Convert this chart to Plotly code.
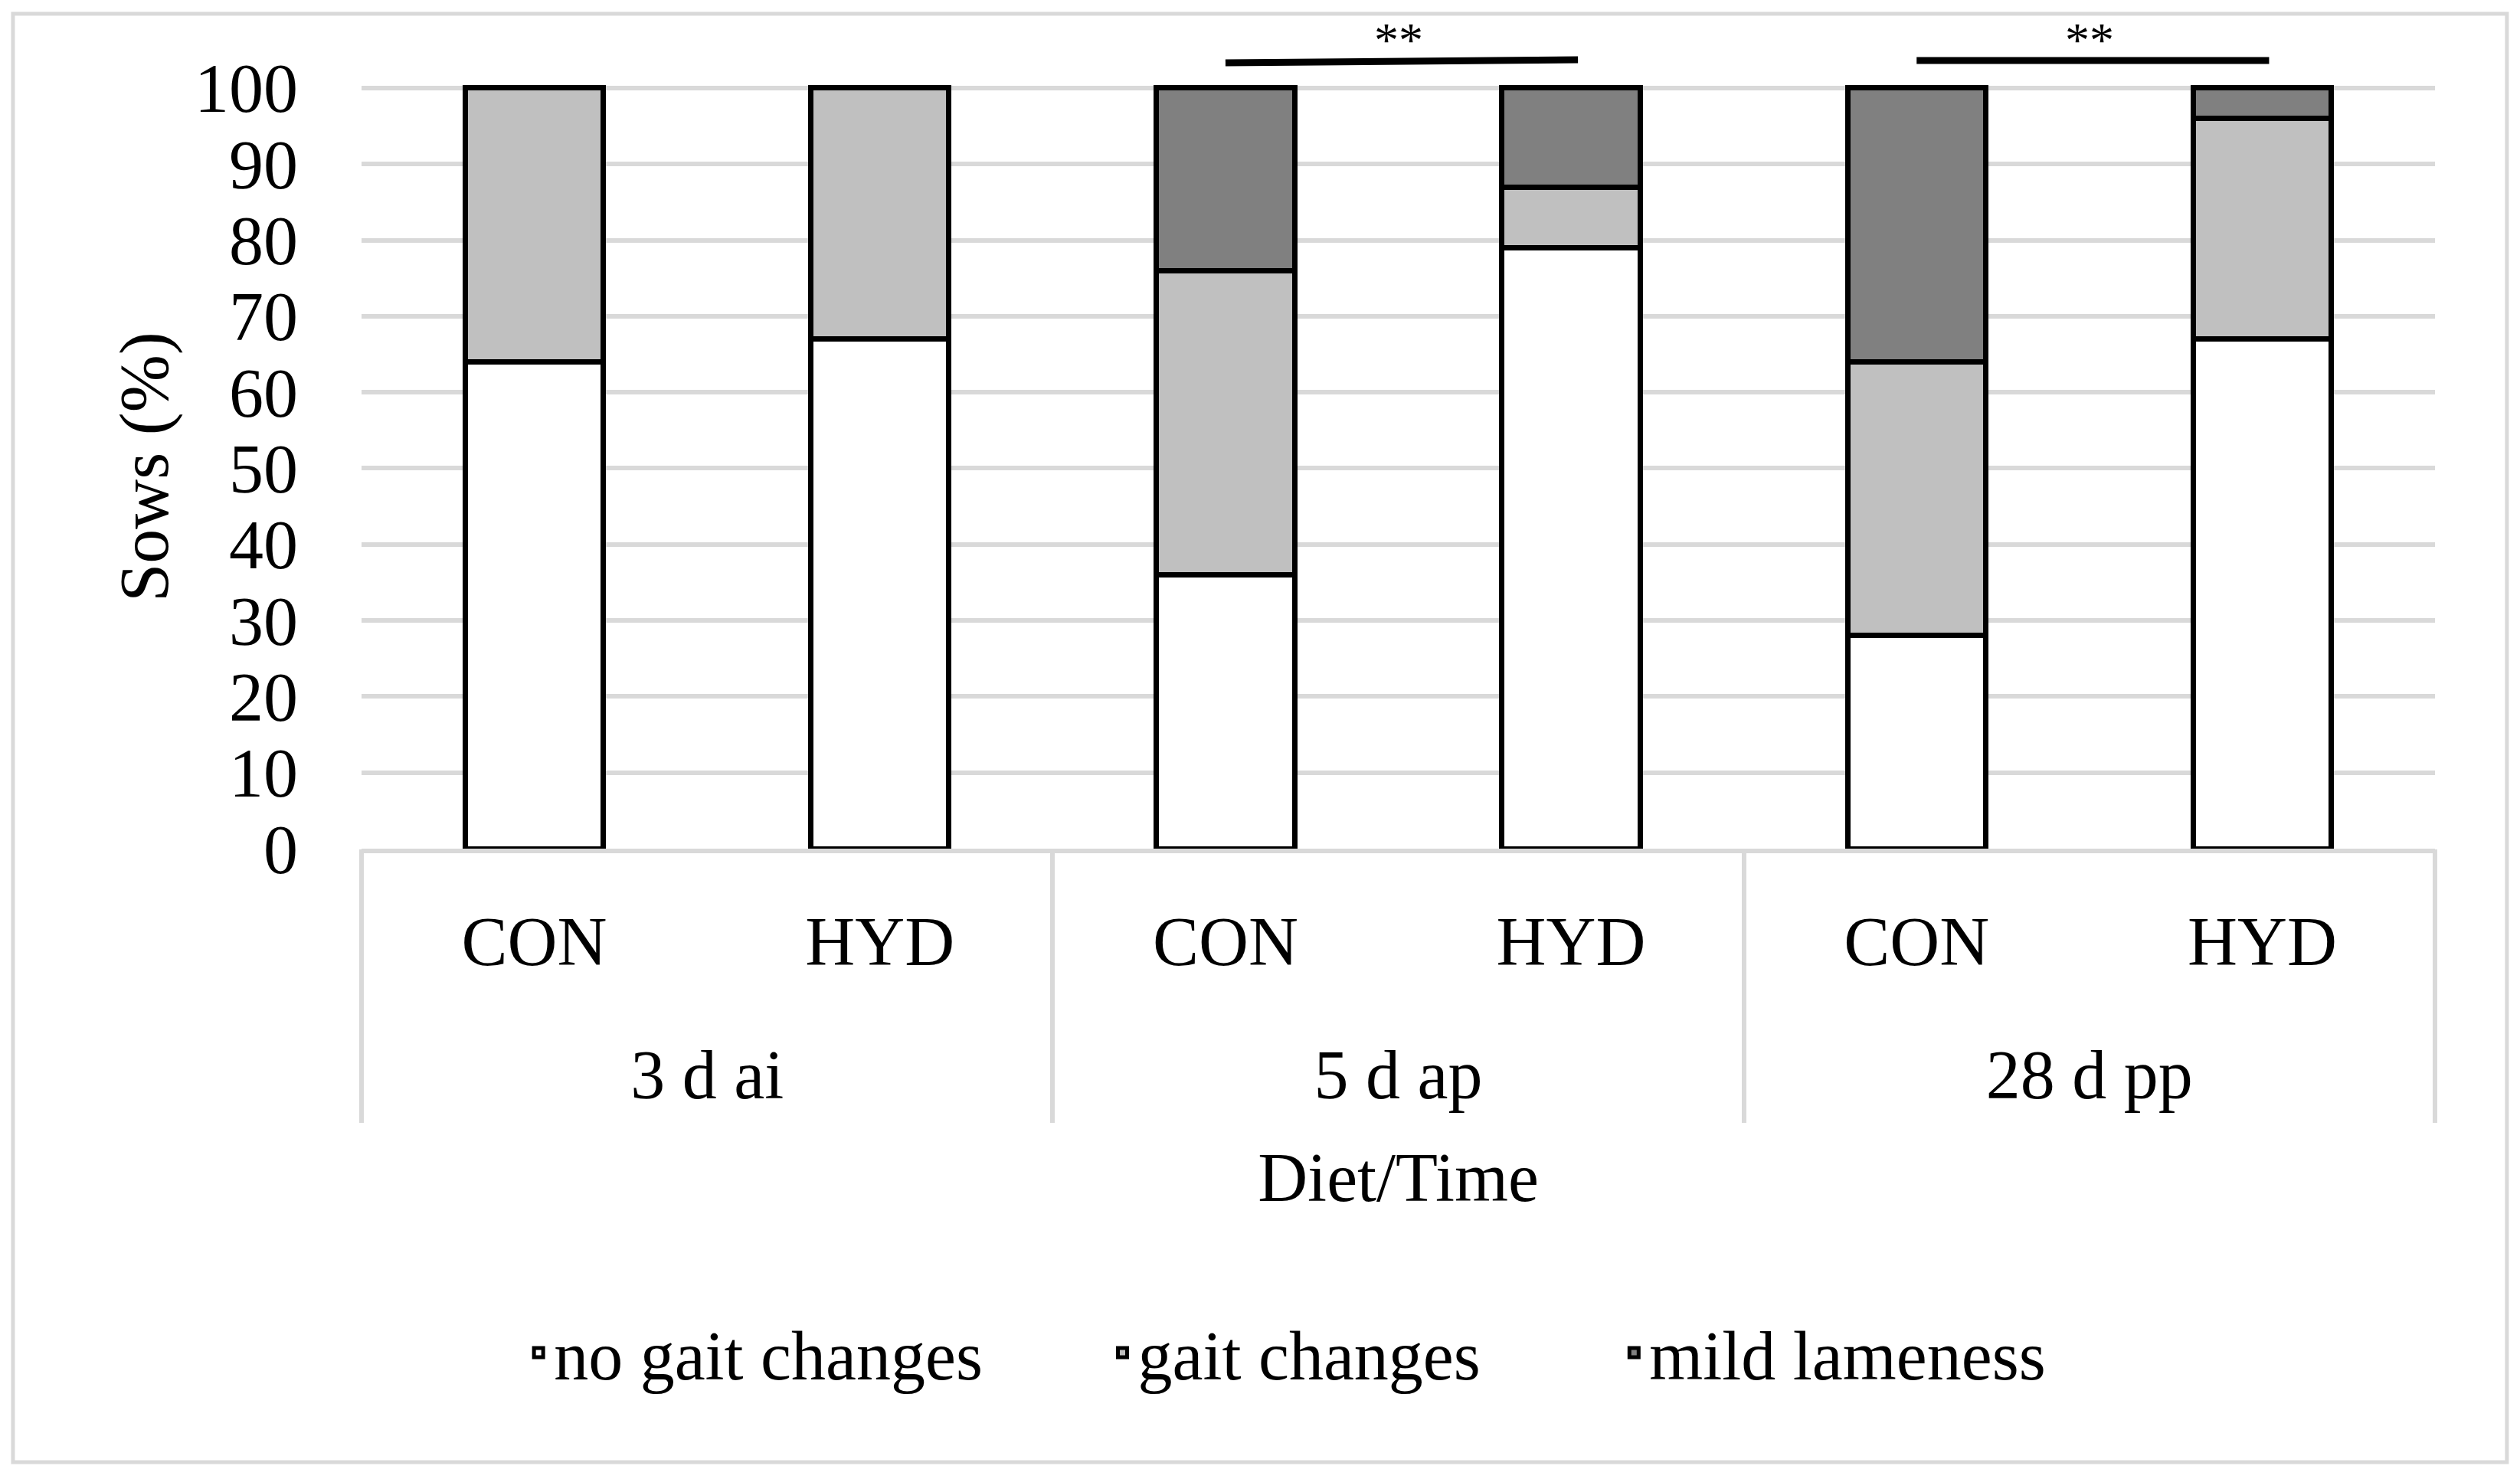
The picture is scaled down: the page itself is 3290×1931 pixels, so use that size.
import plotly.graph_objects as go

# ---- data ----
time_points = ["3 d ai", "3 d ai", "5 d ap", "5 d ap", "28 d pp", "28 d pp"]
diets = ["CON", "HYD", "CON", "HYD", "CON", "HYD"]
no_gait_changes = [64, 67, 36, 79, 28, 67]
gait_changes = [36, 33, 40, 8, 36, 29]
mild_lameness = [0, 0, 24, 13, 36, 4]
series_names = ["no gait changes", "gait changes", "mild lameness"]
series_values = [no_gait_changes, gait_changes, mild_lameness]
series_colors = ["#ffffff", "#c0c0c0", "#808080"]
y_ticks = [0, 10, 20, 30, 40, 50, 60, 70, 80, 90, 100]
significant_groups = ["5 d ap", "28 d pp"]
significance_label = "**"

FONT = "Liberation Serif"
FS = 90
GRID = "#d9d9d9"
BLACK = "black"

# category slots (one per bar) and the time-point groups built from them
slots = list(range(len(diets)))
groups = []
for t in time_points:
    if t not in groups:
        groups.append(t)
group_idx = {g: [i for i, t in enumerate(time_points) if t == g] for g in groups}
group_centers = [sum(group_idx[g]) / len(group_idx[g]) for g in groups]
group_bounds = [group_idx[groups[0]][0] - 0.5] + [group_idx[g][-1] + 0.5 for g in groups]
x_range = [slots[0] - 0.5, slots[-1] + 0.5]

legend_pad = ["\u00a0" * 7, "\u00a0" * 7 + "\u2009", ""]

fig = go.Figure()
for name, vals, col, p in zip(series_names, series_values, series_colors, legend_pad):
    fig.add_trace(go.Bar(
        x=slots, y=vals, name=name + p,
        customdata=list(zip(time_points, diets)),
        hovertemplate="%{customdata[0]} %{customdata[1]}: %{y}%<extra>" + name + "</extra>",
        marker=dict(color=col, line=dict(color=BLACK, width=7)),
    ))

# helper traces so the group-divider axis and the group-label axis get drawn
fig.add_trace(go.Scatter(x=group_bounds, y=[0] * len(group_bounds), xaxis="x2", yaxis="y",
                         mode="markers", marker=dict(opacity=0), showlegend=False, hoverinfo="skip"))
fig.add_trace(go.Scatter(x=group_centers, y=[0] * len(group_centers), xaxis="x3", yaxis="y",
                         mode="markers", marker=dict(opacity=0), showlegend=False, hoverinfo="skip"))

# significance bars
tilt = {"5 d ap": (1.029, 1.033), "28 d pp": (1.032, 1.032)}
for g in significant_groups:
    i0, i1 = group_idx[g][0], group_idx[g][-1]
    y0, y1 = tilt[g]
    fig.add_shape(type="line", xref="x", yref="paper",
                  x0=i0, x1=i1 + 0.02, y0=y0, y1=y1,
                  line=dict(color=BLACK, width=9))
    fig.add_annotation(xref="x", yref="paper", x=(i0 + i1) / 2, y=1.059,
                       text=significance_label, showarrow=False,
                       yanchor="middle", font=dict(family=FONT, size=64, color=BLACK))

# outer frame
fig.add_shape(type="rect", xref="paper", yref="paper",
              x0=-0.1681, x1=1.0347, y0=-0.8034, y1=1.0933,
              line=dict(color=GRID, width=5), fillcolor="rgba(0,0,0,0)", layer="below")

tick_font = dict(family=FONT, size=FS, color=BLACK)

fig.update_layout(
    width=3290, height=1931,
    barmode="stack", bargap=0.6,
    margin=dict(l=464, r=119, t=103, b=831),
    paper_bgcolor="white", plot_bgcolor="white",
    font=dict(family=FONT, size=FS, color=BLACK),
    showlegend=True,
    legend=dict(orientation="h", x=0.078, xanchor="left", y=-0.660, yanchor="middle",
                font=tick_font, traceorder="normal"),
    xaxis=dict(
        range=x_range, tickvals=slots, ticktext=diets,
        showline=True, linecolor=GRID, linewidth=6,
        showgrid=False, zeroline=False, ticks="", ticklabelstandoff=38,
        tickfont=tick_font, automargin=False,
    ),
    xaxis2=dict(
        overlaying="x", anchor="y", side="bottom", range=x_range,
        tickvals=group_bounds, showticklabels=False,
        ticks="outside", ticklen=357, tickwidth=6, tickcolor=GRID,
        showgrid=False, zeroline=False, showline=False, automargin=False,
    ),
    xaxis3=dict(
        overlaying="x", anchor="y", side="bottom", range=x_range,
        tickvals=group_centers, ticktext=groups,
        ticks="", ticklabelstandoff=235,
        showgrid=False, zeroline=False, showline=False,
        tickfont=tick_font, automargin=False,
        title=dict(text="Diet/Time", standoff=52, font=tick_font),
    ),
    yaxis=dict(
        range=[0, 100.4], tickvals=y_ticks,
        showgrid=True, gridcolor=GRID, gridwidth=6,
        zeroline=False, showline=False, ticks="", ticklabelstandoff=82,
        tickfont=tick_font,
        title=dict(text="Sows (%)", standoff=4, font=tick_font),
        automargin=False,
    ),
)

fig.write_html("out.html")
